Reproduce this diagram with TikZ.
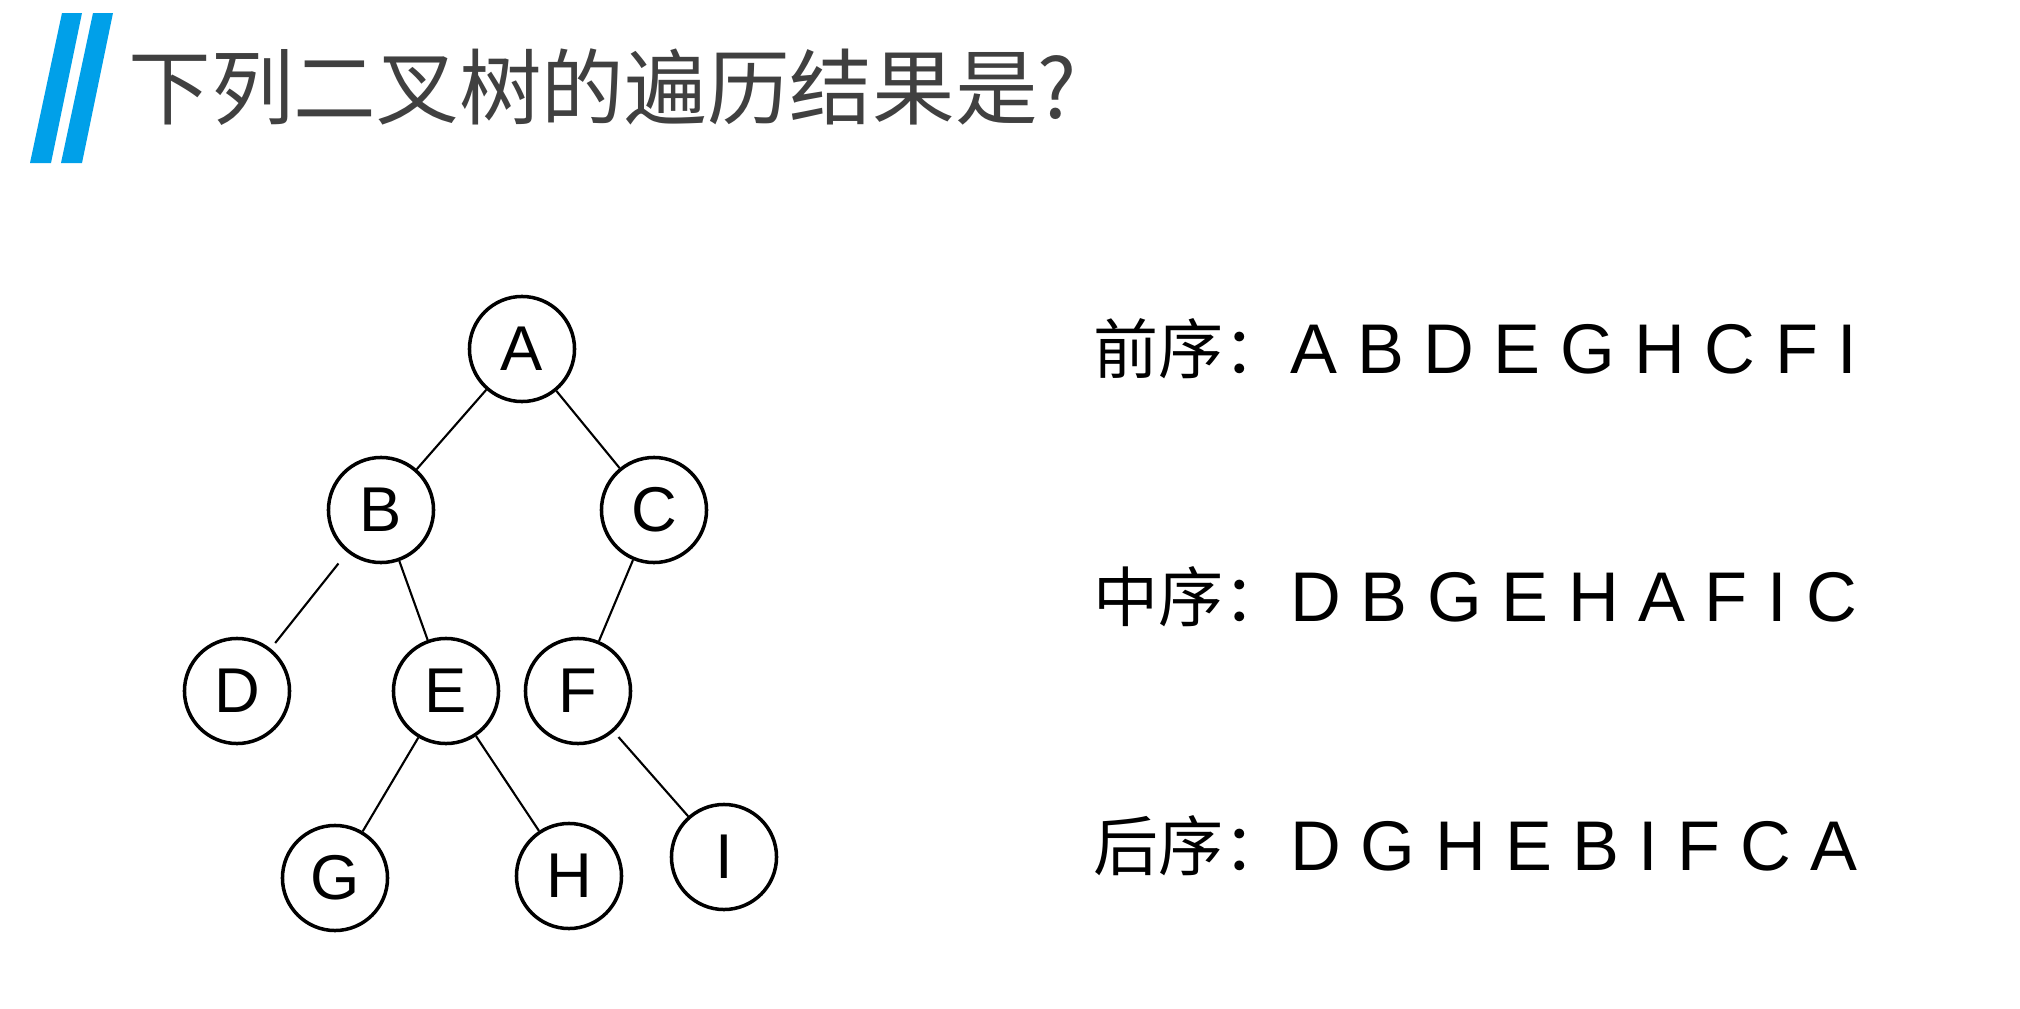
\documentclass[tikz,border=0pt]{standalone}
\usepackage{fontspec}
\setmainfont{Liberation Sans}
\newfontfamily\cjk{Noto Sans CJK SC}
\usepackage{tikz}
\usetikzlibrary{calc}

\definecolor{barblue}{HTML}{00A0E9}
\definecolor{titlegray}{HTML}{404040}

\tikzset{
  vertex/.style={circle, draw=black, line width=1pt, minimum size=1.05cm, inner sep=0pt,
    font=\fontsize{18}{18}\selectfont},
  branch/.style={draw=black, line width=0.6pt},
  orderlabel/.style={anchor=base west, inner sep=0pt, font=\cjk\fontsize{18.5}{20}\selectfont},
  orderseq/.style={anchor=base west, inner sep=0pt, font=\fontsize{20}{22}\selectfont}
}

\begin{document}
\begin{tikzpicture}[x=0.01cm, y=-0.01cm]
            % Page frame
            \useasboundingbox (0,0) rectangle (2020,1009);
            
            % Title bars
            \fill[barblue] (30,163) -- (51,163) -- (82,13) -- (62,13) -- cycle;
            \fill[barblue] (61,163) -- (82,163) -- (113,13) -- (93,13) -- cycle;
            
            % Title
            \node[anchor=west, inner sep=0pt, text=titlegray, font=\cjk\fontsize{23.5}{28}\selectfont] (title) at (128,87) {下列二叉树的遍历结果是?};
            
            % Tree nodes
            \node[vertex] (A) at (522,349) {A};
            \node[vertex] (B) at (381,510) {B};
            \node[vertex] (C) at (654,510) {C};
            \node[vertex] (D) at (237,691) {D};
            \node[vertex] (E) at (446,691) {E};
            \node[vertex] (F) at (578,691) {F};
            \node[vertex] (G) at (335,878) {G};
            \node[vertex] (H) at (569,876) {H};
            \node[vertex] (I) at (724,857) {I};
            
            % Tree edges
            \draw[branch] (A) -- (B);
            \draw[branch] (A) -- (C);
            \draw[branch, shorten <=4pt, shorten >=2pt] (B) -- (D);
            \draw[branch] (B) -- (E);
            \draw[branch] (C) -- (F);
            \draw[branch] (E) -- (G);
            \draw[branch] (E) -- (H);
            \draw[branch, shorten <=2pt] (F) -- (I);
            
            % Traversal results
            \node[orderlabel] (prelabel) at (1093,373) {前序：};
            \node[orderseq] (preseq) at (1290,373) {A B D E G H C F I};
            
            \node[orderlabel] (inlabel) at (1093,621) {中序：};
            \node[orderseq] (inseq) at (1290,621) {D B G E H A F I C};
            
            \node[orderlabel] (postlabel) at (1093,870) {后序：};
            \node[orderseq] (postseq) at (1290,870) {D G H E B I F C A};
        \end{tikzpicture}
\end{document}
